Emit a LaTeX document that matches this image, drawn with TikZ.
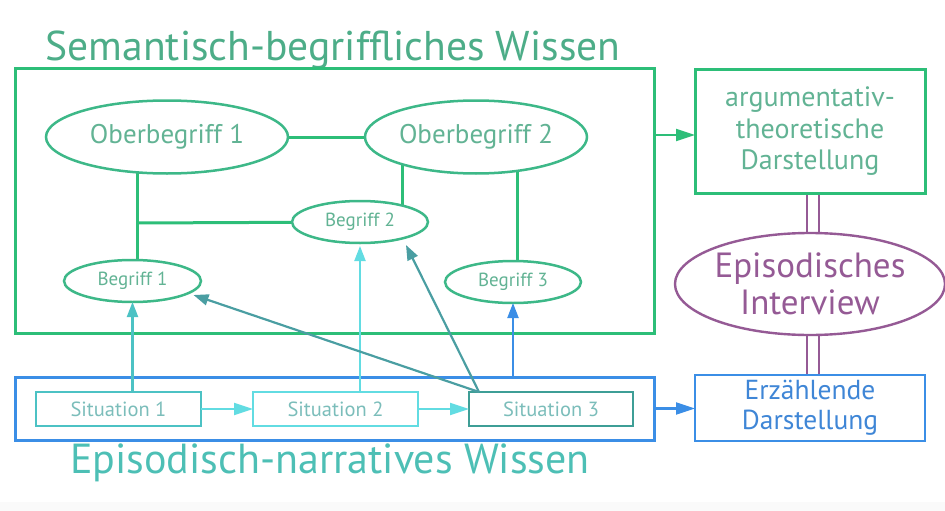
\documentclass[tikz,border=0pt]{standalone}
\usepackage{fontspec}
\setmainfont{PT Sans}
\usetikzlibrary{shapes.geometric,arrows.meta,backgrounds,calc}
\definecolor{boxgreen}{HTML}{2DBE78}
\definecolor{ovalgreen}{HTML}{3DB888}
\definecolor{labelgreen}{HTML}{62B394}
\definecolor{titlegreen}{HTML}{4DAD88}
\definecolor{epiblue}{HTML}{3B8EE6}
\definecolor{erzblue}{HTML}{3F86D6}
\definecolor{sitone}{HTML}{4CC2C4}
\definecolor{sittwo}{HTML}{62DCE2}
\definecolor{sitthree}{HTML}{3E9E96}
\definecolor{diag}{HTML}{4A9EA2}
\definecolor{interview}{HTML}{955A95}
\definecolor{narrteal}{HTML}{4DBFB5}
\definecolor{sitlabel}{HTML}{7BBDBA}
\definecolor{stripgray}{HTML}{FAFAFA}
\begin{document}
\begin{tikzpicture}[x=1pt,y=-1pt,
  every node/.style={inner sep=0pt,outer sep=0pt},
  frame/.style={draw,line width=3pt},
  oval/.style={ellipse,draw=ovalgreen,line width=2.5pt,fill=white,text=labelgreen},
  bigoval/.style={oval,minimum height=73pt,font=\fontsize{27}{30}\selectfont},
  smalloval/.style={oval,minimum width=136pt,minimum height=42pt,font=\fontsize{19}{22}\selectfont},
  sitbox/.style={draw,line width=2.2pt,minimum width=165pt,minimum height=34pt,text=sitlabel,font=\fontsize{20.5}{24}\selectfont},
  link/.style={draw=boxgreen,line width=3pt},
  tip/.style={-{Triangle[length=15pt,width=11pt]},line width=2.2pt},
  longtip/.style={-{Triangle[length=19pt,width=12pt]},line width=2.2pt},
]
\path[use as bounding box] (0,0) rectangle (945,511);
\fill[stripgray] (0,502) rectangle (945,511);

% titles
\node[anchor=base,text=titlegreen,font=\fontsize{41.6}{46}\selectfont] (semtitle) at (333,60) {Semantisch-begriffliches Wissen};
\node[anchor=base,text=narrteal,font=\fontsize{42}{46}\selectfont] (narrtitle) at (330,473) {Episodisch-narratives Wissen};

% knowledge frames
\node[frame,draw=boxgreen,minimum width=639pt,minimum height=264pt] (SB) at (334.5,201) {};
\node[frame,draw=epiblue,minimum width=639pt,minimum height=63pt] (EN) at (334.5,408.5) {};

% concepts
\node[bigoval,minimum width=242pt] (O1) at (167,137) {Oberbegriff 1};
\node[bigoval,minimum width=222pt] (O2) at (476,137) {Oberbegriff 2};
\node[smalloval] (B2) at (360,222) {Begriff 2};
\node[smalloval,minimum width=137pt] (B1) at (132.5,281) {Begriff 1};
\node[smalloval] (B3) at (513,282) {Begriff 3};

% situations
\node[sitbox,draw=sitone] (S1) at (118.5,409) {Situation 1};
\node[sitbox,draw=sittwo] (S2) at (335.5,409) {Situation 2};
\node[sitbox,draw=sitthree,minimum width=164pt] (S3) at (551,409) {Situation 3};

% forms of presentation
\node[frame,draw=boxgreen,minimum width=230pt,minimum height=123pt,text=labelgreen,align=center,font=\fontsize{28}{31.5}\selectfont] (AR) at (810,131.5) {argumentativ-\\theoretische\\Darstellung};
\node[frame,draw=epiblue,line width=2.4pt,minimum width=230pt,minimum height=66pt,text=erzblue,align=center,font=\fontsize{27.5}{30}\selectfont] (ER) at (810,408) {Erzählende\\Darstellung};
\node[ellipse,draw=interview,line width=2.4pt,fill=white,minimum width=264pt,minimum height=102pt,text=interview,align=center,font=\fontsize{35}{37}\selectfont] (IV) at (810,284) {Episodisches\\Interview};

% concept links, drawn beneath the ovals
\begin{pgfonlayer}{background}
  \coordinate (k1) at (137,223);
  \draw[link] (O1) -- (O2);
  \draw[link] (O1.center -| k1) -- (B1.center -| k1);
  \draw[link] (k1) -- (B2.center);
  \draw[link] (O2.center -| 402,0) -- (B2.center -| 402,0);
  \draw[link] (O2.center -| 517,0) -- (B3.center -| 517,0);
  \draw[interview,line width=2.2pt,double=white,double distance=10.5pt] (AR.south -| 813,0) -- (IV.center -| 813,0);
  \draw[interview,line width=2.2pt,double=white,double distance=10.5pt] (IV.center -| 813,0) -- (ER.north -| 813,0);
\end{pgfonlayer}

% situations feeding the concepts
\coordinate (s3o) at ($(S3.north west)+(10,0)$);
\draw[tip,sitone] (B1.south |- S1.north) -- (B1.south);
\draw[tip,sittwo,shorten >=3pt] (B2.south |- S2.north) -- (B2.south);
\draw[tip,diag] (s3o) -- ($(B1.center)+(61,14)$);
\draw[tip,diag] (s3o) -- ($(B2.center)+(46,23)$);
\draw[tip,epiblue] (B3.south |- EN.north) -- (B3.south);

% sequence of situations
\draw[longtip,sittwo] (S1) -- (S2);
\draw[longtip,sittwo] (S2) -- (S3);

% frames to presentations
\draw[longtip,boxgreen] (SB.east |- 0,135) -- (AR.west |- 0,135);
\draw[longtip,epiblue] (EN.east) -- (ER.west |- EN.east);
\end{tikzpicture}
\end{document}
